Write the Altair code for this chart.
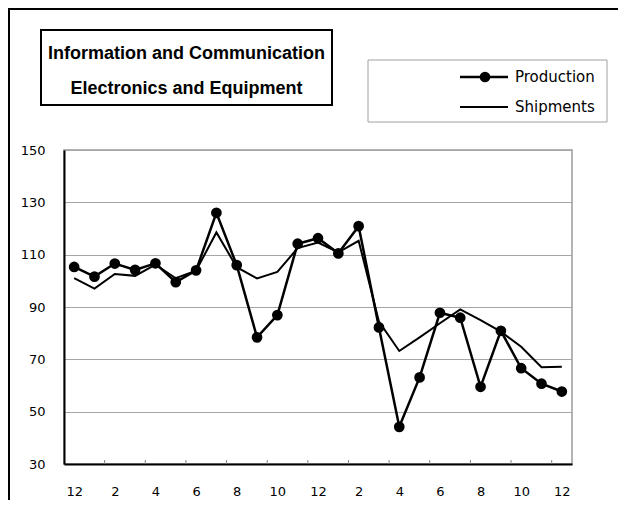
import altair as alt
import pandas as pd

# ---------------- data ----------------
months = ["12", "1", "2", "3", "4", "5", "6", "7", "8", "9", "10", "11",
          "12", "1", "2", "3", "4", "5", "6", "7", "8", "9", "10", "11", "12"]
production = [105.3, 101.6, 106.6, 104.2, 106.7, 99.5, 104.0, 126.0, 106.0, 78.4,
              86.9, 114.2, 116.3, 110.5, 120.9, 82.2, 44.2, 63.1, 87.8, 85.9,
              59.5, 80.9, 66.6, 60.7, 57.7]
shipments = [101.0, 97.0, 102.6, 101.9, 106.2, 101.0, 103.9, 118.5, 105.2, 100.9,
             103.4, 112.5, 114.6, 110.9, 115.3, 84.4, 73.2, 78.4, 83.8, 89.1,
             85.0, 80.6, 74.8, 67.0, 67.2]
y_ticks = [30, 50, 70, 90, 110, 130, 150]
series_names = ["Production", "Shipments"]
title_lines = ["Information and Communication", "Electronics and Equipment"]

W, H = 508, 314
PAD = {"left": 56, "top": 142, "right": 46, "bottom": 36}
n = len(months)
df = pd.DataFrame({"idx": list(range(n)), "month": months,
                   "production": production, "shipments": shipments})
label_idx = list(range(0, n, 2))
tick_df = pd.DataFrame({"pos": [i + 1.5 for i in range(0, n - 1, 2)]})
label_expr = "[" + ",".join(f"'{m}'" for m in months) + "][datum.value]"

xscale = alt.Scale(domain=[-0.5, n - 0.5], nice=False, zero=False)
yscale = alt.Scale(domain=[y_ticks[0], y_ticks[-1]], nice=False, zero=False)

AXIS_FONT = "DejaVu Sans"
TITLE_FONT = "Liberation Sans"

x_axis = alt.Axis(values=label_idx, labelExpr=label_expr, ticks=False, tickSize=0,
                  grid=False, domainColor="black", domainWidth=2, title=None,
                  labelFont=AXIS_FONT, labelFontSize=13, labelColor="black",
                  labelPadding=21, labelAngle=0)
y_axis = alt.Axis(values=y_ticks, ticks=False, tickSize=0, grid=True,
                  gridColor="#a6a6a6", gridWidth=1, domainColor="black",
                  domainWidth=2, title=None, labelFont=AXIS_FONT, labelFontSize=13,
                  labelColor="black", labelPadding=19)

ship = alt.Chart(df).mark_line(color="black", strokeWidth=2).encode(
    x=alt.X("idx:Q", scale=xscale, axis=x_axis),
    y=alt.Y("shipments:Q", scale=yscale, axis=y_axis),
)
prod = alt.Chart(df).mark_line(
    color="black", strokeWidth=2.5,
    point=alt.OverlayMarkDef(filled=True, fill="black", color="black", size=115, opacity=1),
).encode(
    x=alt.X("idx:Q", scale=xscale),
    y=alt.Y("production:Q", scale=yscale),
)
ticks = alt.Chart(tick_df).mark_rule(color="#808080", strokeWidth=1).encode(
    x=alt.X("pos:Q", scale=xscale),
    y=alt.value(H - 4), y2=alt.value(H),
)

one = pd.DataFrame({"a": [0]})

# outer frame (top and left edges only), drawn as thin filled bars
frame_top = alt.Chart(one).mark_rect(fill="black", strokeWidth=0).encode(
    x=alt.value(-56), x2=alt.value(W + PAD["right"]), y=alt.value(-142), y2=alt.value(-140))
frame_left = alt.Chart(one).mark_rect(fill="black", strokeWidth=0).encode(
    x=alt.value(-56), x2=alt.value(-54), y=alt.value(-142), y2=alt.value(H + PAD["bottom"]))

# title box
tbox = alt.Chart(one).mark_rect(fill="white", stroke="black", strokeWidth=2).encode(
    x=alt.value(-23), x2=alt.value(268), y=alt.value(-120), y2=alt.value(-45))
t1 = alt.Chart(one).mark_text(text=title_lines[0], font=TITLE_FONT, fontWeight="bold",
                              fontSize=18, align="center", baseline="alphabetic",
                              color="black").encode(x=alt.value(122.5), y=alt.value(-91.5))
t2 = alt.Chart(one).mark_text(text=title_lines[1], font=TITLE_FONT, fontWeight="bold",
                              fontSize=18, align="center", baseline="alphabetic",
                              color="black").encode(x=alt.value(122.5), y=alt.value(-56.5))

# legend
lbox = alt.Chart(one).mark_rect(fill="white", stroke="#a0a0a0", strokeWidth=1).encode(
    x=alt.value(304), x2=alt.value(543), y=alt.value(-90), y2=alt.value(-28))
l1 = alt.Chart(one).mark_rule(color="black", strokeWidth=2.5).encode(
    x=alt.value(396), x2=alt.value(444), y=alt.value(-73))
l1p = alt.Chart(one).mark_point(filled=True, fill="black", color="black", size=115,
                                opacity=1).encode(x=alt.value(421), y=alt.value(-73))
l1t = alt.Chart(one).mark_text(text=series_names[0], font=AXIS_FONT, fontSize=15,
                               align="left", baseline="middle", color="black").encode(
    x=alt.value(451), y=alt.value(-73))
l2 = alt.Chart(one).mark_rule(color="black", strokeWidth=2).encode(
    x=alt.value(396), x2=alt.value(444), y=alt.value(-43))
l2t = alt.Chart(one).mark_text(text=series_names[1], font=AXIS_FONT, fontSize=15,
                               align="left", baseline="middle", color="black").encode(
    x=alt.value(451), y=alt.value(-43))

chart = alt.layer(
    frame_top, frame_left, ship, prod, ticks, tbox, t1, t2, lbox, l1, l1p, l1t, l2, l2t
).properties(
    width=W, height=H,
    autosize=alt.AutoSizeParams(type="none"),
    padding=PAD,
    background="white",
).configure_view(
    stroke="#9a9a9a", strokeWidth=1.5
)

chart.save("out.html", embed_options={"renderer": "svg", "actions": False})
